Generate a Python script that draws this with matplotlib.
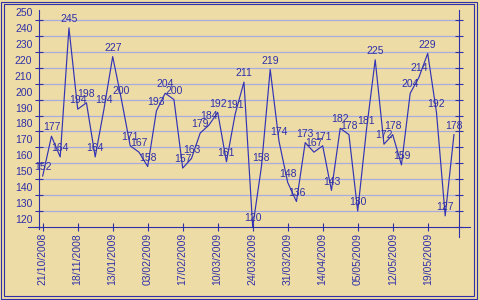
import matplotlib
matplotlib.use("Agg")
import matplotlib.pyplot as plt
import matplotlib.transforms as mtrans
from matplotlib.lines import Line2D
from matplotlib.patches import Rectangle

# ---- data ----
values = [152, 177, 164, 245, 194, 198, 164, 194, 227, 200, 171, 167,
          158, 193, 204, 200, 157, 163, 179, 184, 192, 161, 191, 211,
          120, 158, 219, 174, 148, 136, 173, 167, 171, 143, 182, 178,
          130, 181, 225, 172, 178, 159, 204, 214, 229, 192, 127, 178]
date_labels = ["21/10/2008", "18/11/2008", "13/01/2009", "03/02/2009",
               "17/02/2009", "10/03/2009", "24/03/2009", "31/03/2009",
               "14/04/2009", "05/05/2009", "12/05/2009", "19/05/2009"]
label_step = 4
y_ticks = list(range(120, 251, 10))

# ---- style ----
W, H = 480, 300
BG = "#eddcA6"
BLUE = "#2f2fa8"
LINE = "#3333b4"
GRID = "#a9acdc"
FONT = "Liberation Sans"
FS = 7.5

plt.rcParams['font.family'] = [FONT, 'DejaVu Sans']

fig = plt.figure(figsize=(W / 100, H / 100), dpi=100, facecolor=BG)


def fx(x):
    return x / W


def fy(y):
    return 1 - y / H


ax_left, ax_right, ax_top, ax_bot = 39.3, 459.3, 10.0, 227.0
ax = fig.add_axes([fx(ax_left), fy(ax_bot), (ax_right - ax_left) / W, (ax_bot - ax_top) / H])
ax.patch.set_alpha(0)

x = list(range(len(values)))
ax.set_xlim(-0.3886, 47.611)
ax.set_ylim(120, 256.26)

for s in ax.spines.values():
    s.set_visible(False)

# gridlines
for v in y_ticks:
    if v > 120:
        ax.axhline(v, color=GRID, lw=0.9, zorder=1)

ax.plot(x, values, color=LINE, lw=0.85, zorder=3, clip_on=False)

for xi, v in zip(x, values):
    ax.annotate(str(v), (xi, v), xytext=(0, 4.2), textcoords='offset points',
                ha='center', va='baseline', fontsize=FS, color=BLUE, zorder=4,
                annotation_clip=False)

# ticks
ax.set_yticks(y_ticks)
ax.set_yticklabels([str(v) for v in y_ticks])
ax.tick_params(axis='y', which='major', direction='inout', length=6, width=0.8,
               color=BLUE, labelcolor=BLUE, labelsize=FS, pad=2.0,
               left=True, right=True, labelleft=True, labelright=False)
off = mtrans.ScaledTranslation(0, 8 / 100, fig.dpi_scale_trans)
for lbl in ax.get_yticklabels():
    lbl.set_transform(lbl.get_transform() + off)

xt = list(range(0, len(values), label_step))
ax.set_xticks(xt)
ax.set_xticklabels(date_labels, rotation=90, va='top', ha='center')
ax.tick_params(axis='x', which='major', direction='inout', length=6, width=0.8,
               color=BLUE, labelcolor=BLUE, labelsize=FS, pad=1.2)

# axis lines (drawn in pixel positions)
def fline(x0, y0, x1, y1, lw=0.8):
    fig.add_artist(Line2D([fx(x0), fx(x1)], [fy(y0), fy(y1)], transform=fig.transFigure,
                          color=BLUE, lw=lw, zorder=5))

fline(ax_left, ax_top, ax_left, 229)
fline(ax_right, ax_top, ax_right, 236.7)
fline(28.3, ax_bot, 470, ax_bot)

# double frame
for (l, t, r, b) in [(1.0, 1.5, 477.3, 298.7), (4.0, 4.3, 474.0, 296.0)]:
    fig.add_artist(Rectangle((fx(l), fy(b)), (r - l) / W, (b - t) / H,
                             transform=fig.transFigure, fill=False,
                             edgecolor=BLUE, lw=0.8, zorder=6))

fig.savefig("out.png", dpi=100, facecolor=BG)
